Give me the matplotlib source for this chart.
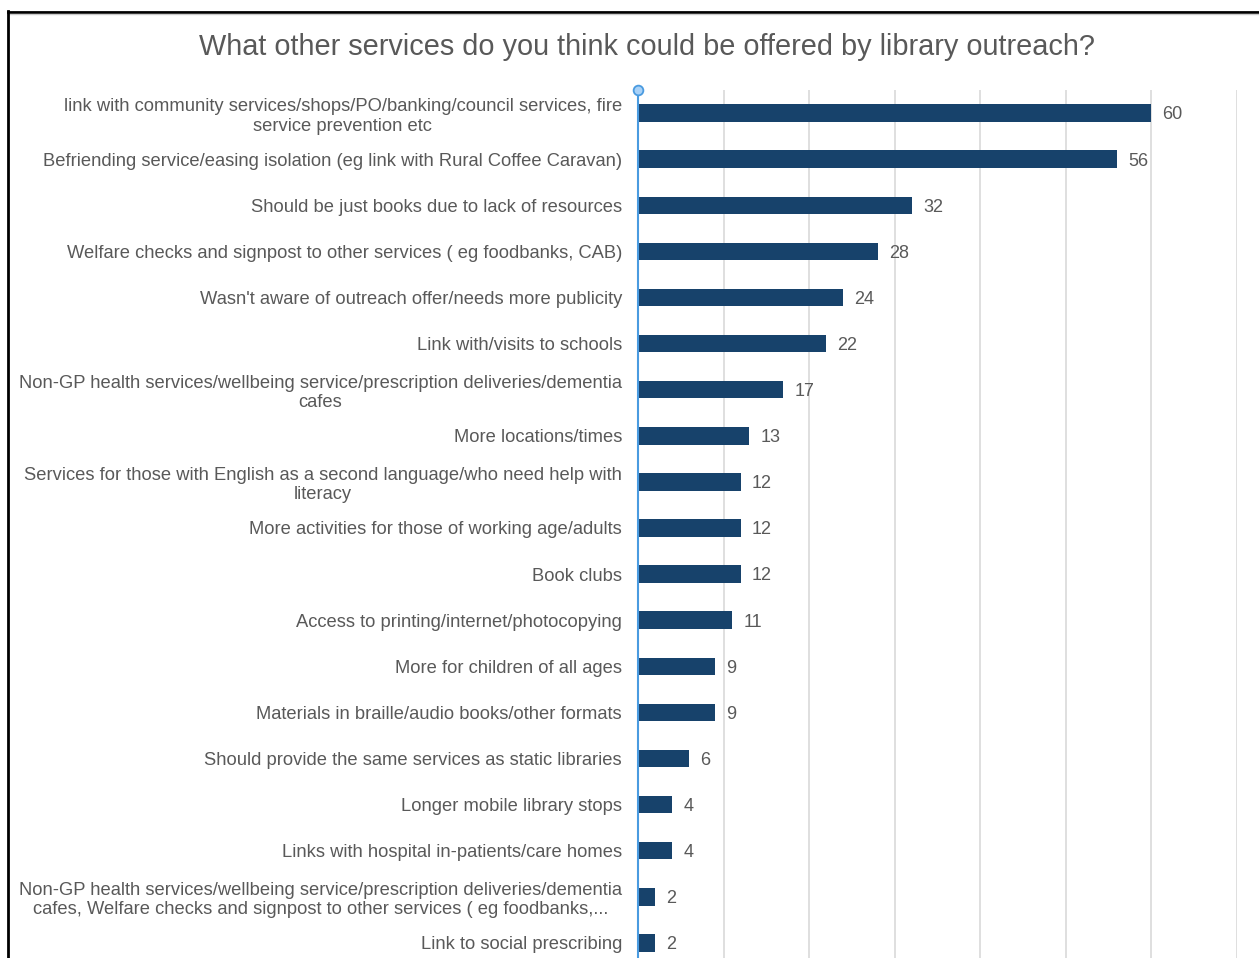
import numpy as np
import matplotlib.pyplot as plt
from matplotlib.lines import Line2D

plt.rcParams['font.family'] = ['Liberation Sans', 'DejaVu Sans']

services = [
    "link with community services/shops/PO/banking/council services, fire\nservice prevention etc",
    "Befriending service/easing isolation (eg link with Rural Coffee Caravan)",
    "Should be just books due to lack of resources",
    "Welfare checks and signpost to other services ( eg foodbanks, CAB)",
    "Wasn't aware of outreach offer/needs more publicity",
    "Link with/visits to schools",
    "Non-GP health services/wellbeing service/prescription deliveries/dementia\ncafes",
    "More locations/times",
    "Services for those with English as a second language/who need help with\nliteracy",
    "More activities for those of working age/adults",
    "Book clubs",
    "Access to printing/internet/photocopying",
    "More for children of all ages",
    "Materials in braille/audio books/other formats",
    "Should provide the same services as static libraries",
    "Longer mobile library stops",
    "Links with hospital in-patients/care homes",
    "Non-GP health services/wellbeing service/prescription deliveries/dementia\ncafes, Welfare checks and signpost to other services ( eg foodbanks,...",
    "Link to social prescribing",
]
counts = [60, 56, 32, 28, 24, 22, 17, 13, 12, 12, 12, 11, 9, 9, 6, 4, 4, 2, 2]

W, H = 1259, 958
fig = plt.figure(figsize=(W / 100, H / 100), dpi=100)

# plot area runs past the bottom edge, like a cropped screenshot
ax_l, ax_r, ax_t, ax_b = 638, 1237, 90, 966
ax = fig.add_axes([ax_l / W, 1 - ax_b / H, (ax_r - ax_l) / W, (ax_b - ax_t) / H])

y = np.arange(len(services))
ax.barh(y, counts, height=0.38, color='#17426b', zorder=3)
ax.set_ylim(len(services) - 0.5, -0.5)
ax.set_xlim(0, 70)

for yi, v in zip(y, counts):
    ax.text(v + 1.3, yi + 0.04, str(v), va='center', ha='left', fontsize=13, color='#595959')

ax.set_yticks(y)
ax.set_yticklabels(services, fontsize=13.2, color='#595959', multialignment='center',
                   linespacing=1.2)
ax.tick_params(axis='y', length=0, pad=11.5)
ax.tick_params(axis='x', length=0, labelbottom=False)
ax.set_xticks(np.arange(0, 71, 10))
ax.grid(axis='x', color='#d9d9d9', lw=1.2, zorder=0)
for s in ['top', 'right', 'bottom']:
    ax.spines[s].set_visible(False)
ax.spines['left'].set_color('#4a9be0')
ax.spines['left'].set_linewidth(1.5)
ax.spines['left'].set_zorder(4)

# small handle at the top of the value axis
ax.plot([0], [-0.5], marker='o', ms=7, mfc='#a8d1f7', mec='#4a9be0', mew=1.3,
        clip_on=False, zorder=5)

fig.text(647 / W, 1 - 47 / H, "What other services do you think could be offered by library outreach?",
         ha='center', va='center', fontsize=20.8, color='#595959')

# frame around the chart
fig.add_artist(Line2D([8 / W, 1], [1 - 11.5 / H, 1 - 11.5 / H], color='black', lw=2))
fig.add_artist(Line2D([8 / W, 1], [1 - 14 / H, 1 - 14 / H], color='#cccccc', lw=1))
fig.add_artist(Line2D([8 / W, 8 / W], [0, 1 - 11 / H], color='black', lw=2))

fig.savefig('out.png', dpi=100)
